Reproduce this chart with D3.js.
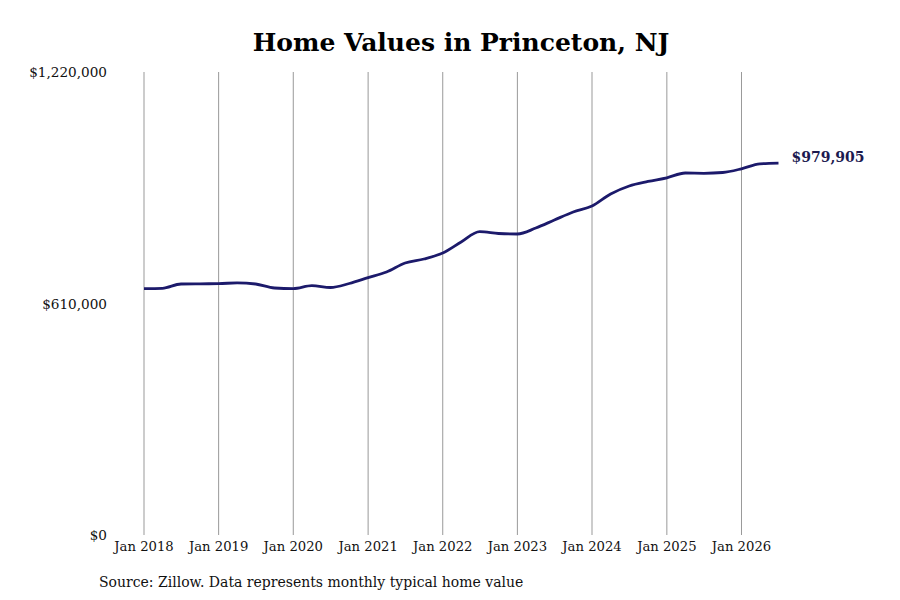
<!DOCTYPE html>
<html>
<head>
<meta charset="utf-8">
<script src="https://cdn.jsdelivr.net/npm/d3@7"></script>
<style>
  body { margin: 0; background: #fff; }
  text { font-family: "DejaVu Serif", serif; }
</style>
</head>
<body>
<div id="chart"></div>
<script>
// monthly typical home value, read quarterly off the reference
const months = ['2018-01','2018-04','2018-07','2018-10','2019-01','2019-04','2019-07','2019-10',
  '2020-01','2020-04','2020-07','2020-10','2021-01','2021-04','2021-07','2021-10',
  '2022-01','2022-04','2022-07','2022-10','2023-01','2023-04','2023-07','2023-10',
  '2024-01','2024-04','2024-07','2024-10','2025-01','2025-04','2025-07','2025-10',
  '2026-01','2026-04','2026-07']
const values = [649000,650000,661400,661900,662200,664500,661400,650800,
  649000,656900,652200,662700,678000,693000,716700,727300,
  743100,772100,799200,794500,793100,808900,830000,851100,
  866900,898500,919600,931500,941200,953900,953100,955200,
  964900,978100,979905]
const yTicks = [0, 610000, 1220000]
const xTickYears = [2018,2019,2020,2021,2022,2023,2024,2025,2026]

const width = 900, height = 600
const parse = d3.timeParse('%Y-%m')
const data = months.map((m, i) => ({date: parse(m), value: values[i]}))

const svg = d3.select('#chart').append('svg')
  .attr('width', width)
  .attr('height', height)

const x = d3.scaleTime()
  .domain(d3.extent(data, d => d.date))
  .range([144, 778.5])

const y = d3.scaleLinear()
  .domain([0, 1220000])
  .range([535, 72])

// vertical gridlines + year labels
const xTicks = xTickYears.map(yr => new Date(yr, 0, 1))
svg.append('g')
  .selectAll('line')
  .data(xTicks)
  .enter()
  .append('line')
  .attr('x1', d => x(d)).attr('x2', d => x(d))
  .attr('y1', y(1220000)).attr('y2', y(0))
  .attr('stroke', '#999')
  .attr('stroke-width', 1)

svg.append('g')
  .selectAll('text')
  .data(xTicks)
  .enter()
  .append('text')
  .attr('x', d => x(d))
  .attr('y', 551)
  .attr('text-anchor', 'middle')
  .style('font-size', '13.2px')
  .attr('fill', '#111')
  .text(d => d3.timeFormat('Jan %Y')(d))

svg.append('g')
  .selectAll('text')
  .data(yTicks)
  .enter()
  .append('text')
  .attr('x', 107)
  .attr('y', d => y(d) + 5)
  .attr('text-anchor', 'end')
  .style('font-size', '13.6px')
  .attr('fill', '#111')
  .text(d => '$' + d3.format(',')(d))

const line = d3.line()
  .x(d => x(d.date))
  .y(d => y(d.value))
  .curve(d3.curveMonotoneX)

svg.append('path')
  .datum(data)
  .attr('d', line)
  .attr('fill', 'none')
  .attr('stroke', '#1c1a6b')
  .attr('stroke-width', 2.8)

const last = data[data.length - 1]
svg.append('text')
  .attr('x', x(last.date) + 13)
  .attr('y', y(last.value) - 1)
  .style('font', 'bold 14px "DejaVu Serif", serif')
  .attr('fill', '#1c1a4f')
  .text('$' + d3.format(',')(last.value))

svg.append('text')
  .attr('x', 461)
  .attr('y', 51)
  .attr('text-anchor', 'middle')
  .style('font', 'bold 25px "DejaVu Serif", serif')
  .attr('fill', '#000')
  .text('Home Values in Princeton, NJ')

svg.append('text')
  .attr('x', 99)
  .attr('y', 587)
  .style('font-size', '14px')
  .attr('fill', '#111')
  .text('Source: Zillow. Data represents monthly typical home value')
</script>
</body>
</html>
